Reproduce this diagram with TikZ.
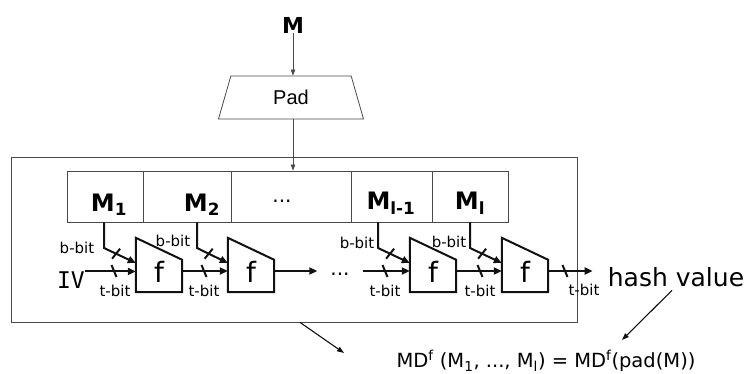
\documentclass[tikz,border=0pt]{standalone}
\usepackage{fontspec}
\setmainfont{DejaVu Sans}
\newfontfamily\padfont{Liberation Sans}
\newfontfamily\ivfont{DejaVu Sans Mono}
\usepackage{tikz}
\usepackage{xcolor}
\usetikzlibrary{arrows.meta,positioning,shapes.geometric,calc}
\definecolor{ink}{HTML}{111111}
\definecolor{inkgray}{HTML}{4A4A4A}
\tikzset{
  thinline/.style={inkgray,line width=0.8pt},
  thickline/.style={ink,line width=2pt,line join=miter},
  thinarrow/.style={-{Triangle[length=6pt,width=4.5pt]}},
  thickarrow/.style={-{Triangle[length=8pt,width=7pt]}},
  pointer/.style={ink,line width=1.1pt,-{Triangle[length=7pt,width=5pt]}},
  cell/.style={draw=inkgray,line width=0.8pt,minimum height=51pt,inner sep=0pt},
  frame/.style={draw=inkgray,line width=0.8pt,minimum width=566pt,minimum height=165pt,inner sep=0pt},
  padshape/.style={trapezium,draw=inkgray,line width=0.8pt,trapezium left angle=50,
    trapezium right angle=50,minimum width=145pt,minimum height=43pt,
    trapezium stretches body,inner sep=0pt,font=\padfont\fontsize{20}{20}\selectfont},
  toplbl/.style={font=\bfseries\fontsize{22}{22}\selectfont,inner sep=0pt},
  blocklbl/.style={font=\bfseries\fontsize{24}{24}\selectfont,inner sep=0pt,anchor=base},
  cfun/.style={minimum width=46pt,minimum height=54pt,inner sep=0pt,font=\fontsize{28}{28}\selectfont},
  ivlbl/.style={font=\ivfont\fontsize{23}{23}\selectfont,inner sep=0pt},
  dotslbl/.style={minimum width=45pt,inner sep=0pt,font=\fontsize{20}{20}\selectfont},
  bitlbl/.style={font=\fontsize{15}{15}\selectfont,inner sep=0pt},
  hashlbl/.style={font=\fontsize{25}{25}\selectfont,inner sep=3pt},
  formula/.style={font=\fontsize{19.5}{19.5}\selectfont,inner sep=2pt},
}
\begin{document}
\begin{tikzpicture}[x=1pt,y=-1pt]
  \useasboundingbox (0,0) rectangle (747,374);
  % padding
  \node[toplbl] (msg) at (293,25) {M};
  \node[padshape] (pad) at (291,97.5) {Pad};
  \draw[thinline,thinarrow] (msg.south) -- (msg |- pad.north);
  % frame with the message blocks
  \node[frame] (frame) at (294,239.5) {};
  \node[cell,minimum width=76pt] (c1) at (105,196.5) {};
  \node[cell,minimum width=88pt] (c2) at (187,196.5) {};
  \node[cell,minimum width=120pt] (c3) at (291,196.5) {};
  \node[cell,minimum width=81pt] (c4) at (391.5,196.5) {};
  \node[cell,minimum width=76pt] (c5) at (470,196.5) {};
  \draw[thinline,thinarrow] (msg |- pad.south) -- (msg |- c3.north);
  \node[blocklbl] (m1) at (109,212) {M\textsubscript{1}};
  \node[blocklbl] (m2) at (202,212) {M\textsubscript{2}};
  \node[dotslbl,anchor=base] (mdots) at (282,203) {...};
  \node[blocklbl] (mlm) at (391,210) {M\textsubscript{l-1}};
  \node[blocklbl] (ml) at (470,210) {M\textsubscript{l}};
  % compression functions
  \foreach \n/\cx in {f1/159,f2/251,f3/433,f4/525} {
    \node[cfun] (\n) at (\cx,265) {\raisebox{-7pt}[\height][0pt]{f}};
    \draw[thickline] (\n.north west) -- ([yshift=-22pt]\n.north east)
      -- (\n.south east) -- (\n.south west) -- cycle;
    \coordinate (\n-in) at ([yshift=-6pt]\n.west);
    \coordinate (\n-out) at ([yshift=-6pt]\n.east);
    \coordinate (\n-feed) at ([yshift=2pt]\n.west);
  }
  % chaining values
  \node[ivlbl] (iv) at (71,280) {IV};
  \draw[thickline,thickarrow] (iv.north east) -- (iv.north east -| f1-in);
  \draw[thickline,thickarrow] (f1-out) -- (f2-in);
  \node[dotslbl] (gap) at (340,271) {};
  \node[dotslbl,anchor=base] (gapdots) at (340,275) {...};
  \draw[thickline,thickarrow] (f2-out) -- (gap.west);
  \draw[thickline,thickarrow] (gap.east) -- (f3-in);
  \draw[thickline,thickarrow] (f3-out) -- (f4-in);
  \node[hashlbl] (hash) at (676,277.5) {hash value};
  \coordinate (hashin) at ([xshift=-12pt]hash.west);
  \draw[thickline,thickarrow] (f4-out) -- (f4-out -| hashin);
  % message block inputs
  \foreach \c/\bx/\n in {c1/104/f1,c2/197/f2,c4/378/f3,c5/470/f4} {
    \coordinate (\n-bend) at (\bx,248);
    \draw[thickline,thickarrow] (\c.south -| \n-bend) -- (\n-bend) -- (\n-feed);
    \draw[thickline] ($(\n-bend)!0.38!(\n-feed)$) ++(-4,5) -- ++(8,-10);
  }
  \foreach \tx in {114,204,385,480,565}
    \draw[thickline] (\tx-2.5,265) -- (\tx+2.5,277);
  \foreach \bx/\by [count=\i] in {77/248,173/241,357/243,449/242}
    \node[bitlbl] (bb\i) at (\bx,\by) {b-bit};
  \foreach \bx/\by [count=\i] in {115/291,204/291,385/291,480/291,584/290}
    \node[bitlbl] (tb\i) at (\bx,\by) {t-bit};
  % result
  \node[formula] (md) at (546,361) {MD\textsuperscript{f} (M\textsubscript{1}, ..., M\textsubscript{l}) = MD\textsuperscript{f}(pad(M))};
  \coordinate (mdtip) at (344,353);
  \coordinate (hashtip) at (622,340);
  \draw[pointer] ([xshift=6pt]frame.south) -- (mdtip);
  \draw[pointer] ([xshift=-4pt]hash.south) -- (hashtip);
\end{tikzpicture}
\end{document}
